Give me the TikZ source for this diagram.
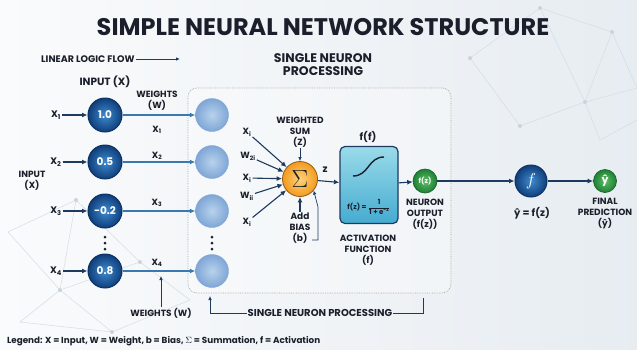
\documentclass[tikz,border=0pt]{standalone}
\usepackage{fontspec}
\setmainfont{Poppins}
\usepackage{amsmath}
\usetikzlibrary{positioning,arrows.meta}
\definecolor{inkdark}{HTML}{1A1F2B}
\definecolor{navyline}{HTML}{1E3A5F}
\definecolor{flowblue}{HTML}{3A78B0}
\definecolor{deepblue}{HTML}{0F3E7A}
\definecolor{midblue}{HTML}{3F8BD0}
\definecolor{paleblue}{HTML}{B8D2EC}
\definecolor{softblue}{HTML}{7FA6D6}
\definecolor{sumorange}{HTML}{F29A1E}
\definecolor{sunlight}{HTML}{FFD27A}
\definecolor{tealtop}{HTML}{9ADBEA}
\definecolor{tealbot}{HTML}{45ABD0}
\definecolor{leafgreen}{HTML}{5CC065}
\definecolor{darkgreen}{HTML}{1F7F35}
\definecolor{netgray}{HTML}{D3DDE6}

\begin{document}
\begin{tikzpicture}
[x=1pt, y=-1pt,
lbl/.style={font=\bfseries\fontsize{9}{11}\selectfont, text=inkdark, align=center, inner sep=1pt},
bigtxt/.style={font=\bfseries\fontsize{12.5}{13}\selectfont, text=inkdark, align=center, inner sep=1pt},
inneuron/.style={circle, minimum size=34pt, inner sep=0pt, draw=deepblue!80!black, line width=1pt, inner color=midblue, outer color=deepblue, text=white, font=\bfseries\fontsize{10.5}{12}\selectfont},
hidneuron/.style={circle, minimum size=33pt, inner sep=0pt, draw=softblue, line width=0.4pt, inner color=paleblue, outer color=softblue},
outneuron/.style={circle, inner sep=0pt, draw=darkgreen!80!black, line width=0.7pt, inner color=leafgreen, outer color=darkgreen, text=white},
flow/.style={-{Latex[length=5.5pt,width=5pt]}, line width=1.1pt, draw=navyline},
wline/.style={-{Latex[length=5.5pt,width=5pt]}, line width=1.1pt, draw=flowblue},
pointer/.style={-{Latex[length=4pt,width=3.5pt]}, line width=0.7pt, draw=navyline},
]
% background
\shade[left color=white!60!netgray!30, right color=netgray!55] (0,0) rectangle (637,349);
\useasboundingbox (0,0) rectangle (637,349);
\draw[netgray, line width=0.5pt] (470,58) -- (540,8) -- (612,32) -- (637,88) -- (585,102) -- (520,126) -- (470,58) (540,8) -- (585,102) -- (612,32) (585,102) -- (600,140) -- (637,120);
\draw[netgray, line width=0.5pt] (8,232) -- (76,200) -- (60,290) -- (8,232) (60,290) -- (140,262) -- (76,200) (60,290) -- (112,332) -- (20,322) -- (60,290) (112,332) -- (190,300) -- (140,262);
\foreach \p in {(470,58),(540,8),(612,32),(585,102),(520,126),(76,200),(60,290),(140,262),(112,332)}
  \fill[netgray!90!gray] \p circle (2pt);

% title and top labels
\node[font=\bfseries\fontsize{24}{28}\selectfont, text=inkdark] (title) at (323,27) {SIMPLE NEURAL NETWORK STRUCTURE};
\node[lbl, font=\bfseries\fontsize{9.5}{11}\selectfont, anchor=west] (flowlbl) at (40,59) {LINEAR LOGIC FLOW};
\coordinate (flowend) at (180,59);
\draw[pointer, line width=0.9pt] (flowlbl) -- (flowend);
\node[bigtxt] (proclbl) at (323,65) {SINGLE NEURON\\PROCESSING};
\node[bigtxt, font=\bfseries\fontsize{10.5}{12}\selectfont] (inlbl) at (105,82) {INPUT (X)};
\node[lbl] (wtop) at (157,101) {WEIGHTS\\(W)};
\node[lbl] (inside) at (32,181) {INPUT\\(X)};

% processing box
\node[draw=gray!70, densely dotted, line width=0.7pt, rounded corners=9pt, fill=white, fill opacity=0.3, minimum width=263pt, minimum height=205pt] (procbox) at (319.5,190.5) {};

% inputs and first layer
\foreach \i/\v/\y in {1/1.0/115,2/0.5/162,3/-0.2/211,4/0.8/271}{
  \node[inneuron] (in\i) at (105,\y) {\v};
  \node[lbl, font=\bfseries\fontsize{9.5}{10}\selectfont] (xl\i) at (56,\y) {X\textsubscript{\i}};
  \node[hidneuron] (hid\i) at (212,\y) {};
  \draw[flow] (xl\i) -- (in\i);
  \draw[wline] (in\i) -- (hid\i);
}
\node[lbl] (w1) at (157,130) {X\textsubscript{1}};
\node[lbl] (w2) at (157,156) {X\textsubscript{2}};
\node[lbl] (w3) at (157,203) {X\textsubscript{3}};
\node[lbl] (w4) at (157,263) {X\textsubscript{4}};
\foreach \d in {-6,0,6}{
  \fill[inkdark] (105,243+\d) circle (1.5pt);
  \fill[inkdark] (212,243+\d) circle (1.5pt);
}
\node[lbl] (wbot) at (161,313) {WEIGHTS (W)};
\coordinate (w4pt) at (161,276);
\draw[pointer] (wbot) -- (w4pt);

% summation
\node[circle, minimum size=35pt, inner sep=0pt, draw=sumorange!60!black, line width=0.8pt, inner color=sunlight, outer color=sumorange, text=inkdark, font=\fontsize{24}{24}\selectfont] (sum) at (300,179) {$\Sigma$};
\foreach \n/\t/\x/\y in {s1/X\textsubscript{i}/247/132, s2/W\textsubscript{2i}/248/156, s3/X\textsubscript{i}/247/178, s4/W\textsubscript{ii}/247/196, s5/X\textsubscript{i}/247/222}{
  \node[lbl] (\n) at (\x,\y) {\t};
  \draw[flow] (\n) -- (sum);
}
\node[lbl] (wsum) at (300,132) {WEIGHTED\\SUM\\(Z)};
\draw[pointer] (wsum) -- (sum);
\node[lbl] (bias) at (300,228) {Add\\BIAS\\(b)};
\draw[flow] (bias) -- (sum);
\coordinate (bk) at (312,240);
\draw[pointer] (bk) -- ++(6,0) -- ++(0,-33) -- (sum.-40);

% activation
\node[rectangle, rounded corners=5pt, minimum width=58pt, minimum height=77pt, draw=navyline, line width=1.2pt, top color=tealtop, bottom color=tealbot] (act) at (369,185) {};
\draw[line width=1.4pt, inkdark] (353,176) .. controls (369,176) and (368,157) .. (384,157);
\node[font=\bfseries\fontsize{7}{7}\selectfont, text=inkdark, inner sep=0pt] (formula) at (369,207) {f(z) = $\dfrac{\text{1}}{\text{1 + e\textsuperscript{-z}}}$};
\node[lbl, font=\bfseries\fontsize{10}{10}\selectfont] (zlbl) at (325,170) {z};
\draw[flow] (sum) -- (act);
\node[lbl, font=\bfseries\fontsize{10}{11}\selectfont] (fflbl) at (368,137) {f(f)};
\node[lbl] (actlbl) at (368,250) {ACTIVATION\\FUNCTION\\(f)};

% outputs
\node[outneuron, minimum size=24pt, font=\bfseries\fontsize{7}{7}\selectfont] (out) at (425,181) {f(z)};
\draw[flow] (act) -- (out);
\node[lbl] (outlbl) at (425,214) {NEURON\\OUTPUT\\(f(z))};
\node[inneuron, minimum size=32pt, font=\fontsize{17}{17}\selectfont] (fnode) at (531,181) {$f$};
\draw[flow] (out) -- (fnode);
\node[bigtxt, font=\bfseries\fontsize{10}{12}\selectfont] (yeq) at (532,213) {ŷ = f(z)};
\node[outneuron, minimum size=23pt, font=\bfseries\fontsize{11}{11}\selectfont] (pred) at (605,181) {ŷ};
\draw[flow] (fnode) -- (pred);
\node[lbl] (predlbl) at (605,214) {FINAL\\PREDICTION\\(ŷ)};

% bottom bracket and legend
\node[lbl, font=\bfseries\fontsize{10}{11}\selectfont] (botlbl) at (320,313) {SINGLE NEURON PROCESSING};
\coordinate (bl) at (210,296);
\coordinate (br) at (423,298);
\draw[pointer] (botlbl) -| (bl);
\draw[line width=0.7pt, navyline] (botlbl) -| (br);
\node[lbl, font=\bfseries\fontsize{8.8}{10}\selectfont, anchor=west] (legend) at (6,341) {Legend: X = Input, W = Weight, b = Bias, $\Sigma$ = Summation, f = Activation};
\end{tikzpicture}
\end{document}
